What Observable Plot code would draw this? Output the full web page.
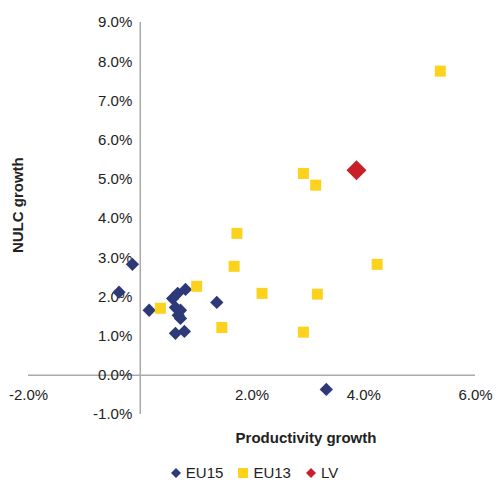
<!DOCTYPE html>
<html><head><meta charset="utf-8">
<script src="https://cdn.jsdelivr.net/npm/d3@7"></script>
<script src="https://cdn.jsdelivr.net/npm/@observablehq/plot@0.6"></script>
<style>
body{margin:0;font-family:"Liberation Sans",Arial,sans-serif;background:#fff}
.legend{display:flex;justify-content:center;gap:14px;font-size:15px;color:#222;margin-top:14px;padding-left:8px}
.legend span{display:flex;align-items:center;gap:4px}
</style></head><body>
<div id="chart"></div>
<div class="legend">
<span><svg width="12" height="12"><path d="M6 1L11 6L6 11L1 6Z" fill="#2e3a78"/></svg>EU15</span>
<span><svg width="12" height="12"><rect x="1" y="1" width="10" height="10" fill="#fcd21d"/></svg>EU13</span>
<span><svg width="12" height="12"><path d="M6 1L11 6L6 11L1 6Z" fill="#c8202a"/></svg>LV</span>
</div>
<script>
const eu15x = [-0.14,-0.38,0.16,0.58,0.67,0.81,0.63,0.72,0.68,0.72,0.63,0.79,1.37,3.33];
const eu15y = [2.83,2.12,1.66,1.96,2.09,2.19,1.73,1.66,1.53,1.45,1.07,1.12,1.86,-0.36];
const eu13x = [0.36,1.01,1.46,1.68,1.73,2.18,2.92,2.92,3.14,3.17,4.24,5.37];
const eu13y = [1.71,2.27,1.22,2.78,3.62,2.09,1.10,5.15,4.85,2.07,2.83,7.76];
const lvX = [3.87], lvY = [5.23];
const xTicks = [-2,2,4,6];
const yTicks = [-1,0,1,2,3,4,5,6,7,8,9];

const pts = (xs, ys) => xs.map((x, i) => ({x, y: ys[i]}));
const fmt = v => v.toFixed(1) + "%";
const font = {fontFamily:"Liberation Sans, Arial, sans-serif"};

const fig = Plot.plot({
  width: 500, height: 450,
  marginLeft: 28, marginRight: 25, marginTop: 22, marginBottom: 36,
  style: {...font, fontSize: "15px", color: "#222"},
  x: {domain: [-2, 6], axis: null},
  y: {domain: [-1, 9], axis: null},
  marks: [
    Plot.ruleY([0], {stroke: "#aaa", strokeWidth: 1.5}),
    Plot.ruleX([0], {stroke: "#aaa", strokeWidth: 1.5}),
    Plot.text(xTicks, {x: d => d, y: 0, text: fmt, dy: 20, fontSize: 15}),
    Plot.text(yTicks, {x: 0, y: d => d, text: fmt, dx: -8, textAnchor: "end", fontSize: 15}),
    Plot.dot(pts(eu15x, eu15y), {x: "x", y: "y", symbol: "diamond2", r: 6, fill: "#2e3a78"}),
    Plot.dot(pts(eu13x, eu13y), {x: "x", y: "y", symbol: "square2", r: 7, fill: "#fcd21d"}),
    Plot.dot(pts(lvX, lvY), {x: "x", y: "y", symbol: "diamond2", r: 9, fill: "#c8202a"}),
    Plot.text(["Productivity growth"], {frameAnchor: "bottom", dx: 54, dy: 28, fontWeight: "bold", fontSize: 15}),
    Plot.text(["NULC growth"], {x: -2, y: 4.34, rotate: -90, textAnchor: "middle", dx: -10, fontWeight: "bold", fontSize: 15})
  ]
});
document.getElementById("chart").append(fig);
</script></body></html>
